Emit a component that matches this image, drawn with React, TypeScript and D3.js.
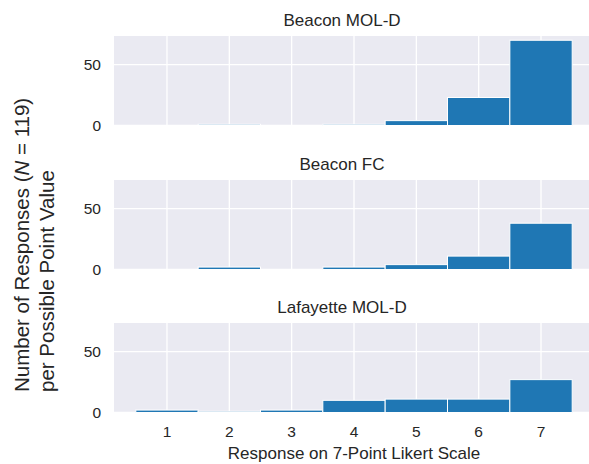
import React from "react";
import * as d3 from "d3";

const panelTitles = ["Beacon MOL-D", "Beacon FC", "Lafayette MOL-D"];
const likertPoints = [1, 2, 3, 4, 5, 6, 7];
const beaconMolD = [0, 1, 0, 1, 4, 23, 70];
const beaconFC = [0, 2, 0, 2, 4, 11, 38];
const lafayetteMolD = [2, 1, 2, 10, 11, 11, 27];
const yTicks = [0, 50];
const xTickLabels = ["1", "2", "3", "4", "5", "6", "7"];

const seriesList = [beaconMolD, beaconFC, lafayetteMolD];

const W = 589;
const H = 464;
const left = 114;
const right = 594;
const panelTops = [36, 180, 323];
const panelH = 89.5;
const textColor = "#262626";
const font = "'Liberation Sans', Arial, sans-serif";

export default function App() {
  const x = d3.scaleLinear().domain([0.15, 7.85]).range([left, right]);
  const yMax = d3.max(seriesList.flat())! * 1.05;

  return (
    <svg
      width={W}
      height={H}
      style={{ position: "absolute", left: 0, top: 0, background: "#fff" }}
      fontFamily={font}
    >
      {seriesList.map((vals, pi) => {
        const top = panelTops[pi];
        const bottom = top + panelH;
        const y = d3.scaleLinear().domain([0, yMax]).range([bottom, top]);
        return (
          <g key={pi}>
            <rect x={left} y={top} width={right - left} height={panelH} fill="#EAEAF2" />
            {likertPoints.map((p) => (
              <line key={"vx" + p} x1={x(p)} x2={x(p)} y1={top} y2={bottom} stroke="#fff" strokeWidth={1.3} />
            ))}
            {yTicks.map((t) => (
              <line key={"hy" + t} x1={left} x2={right} y1={y(t)} y2={y(t)} stroke="#fff" strokeWidth={1.3} />
            ))}
            {vals.map((v, i) => (
              <rect
                key={"b" + i}
                x={x(likertPoints[i] - 0.5)}
                y={y(v)}
                width={x(likertPoints[i] + 0.5) - x(likertPoints[i] - 0.5)}
                height={y(0) - y(v)}
                fill="#1f77b4"
                stroke="#fff"
                strokeWidth={1}
              />
            ))}
            {yTicks.map((t) => (
              <text
                key={"yt" + t}
                x={101}
                y={y(t)}
                dy="0.36em"
                textAnchor="end"
                fontSize={15.5}
                fill={textColor}
              >
                {t}
              </text>
            ))}
            <text x={342} y={top - 10} textAnchor="middle" fontSize={17} fill={textColor}>
              {panelTitles[pi]}
            </text>
          </g>
        );
      })}
      {likertPoints.map((p, i) => (
        <text key={"xt" + p} x={x(p)} y={437} textAnchor="middle" fontSize={15.5} fill={textColor}>
          {xTickLabels[i]}
        </text>
      ))}
      <text x={354} y={458.5} textAnchor="middle" fontSize={17} fill={textColor}>
        Response on 7-Point Likert Scale
      </text>
      <g transform="translate(29,392) rotate(-90)">
        <text x={0} y={0} textAnchor="start" fontSize={20.5} fill={textColor}>
          Number of Responses (<tspan fontStyle="italic">N</tspan> = 119)
        </text>
        <text x={0} y={24.5} textAnchor="start" fontSize={20.5} fill={textColor}>
          per Possible Point Value
        </text>
      </g>
    </svg>
  );
}
